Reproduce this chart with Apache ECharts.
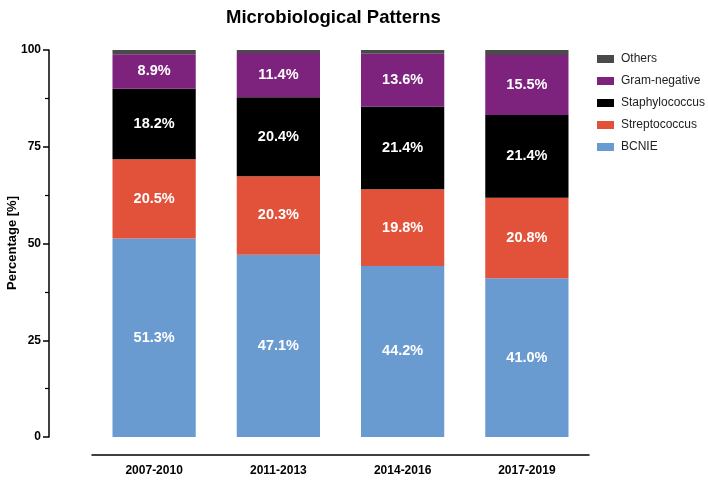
<!DOCTYPE html>
<html><head><meta charset="utf-8">
<script src="https://cdn.jsdelivr.net/npm/echarts@6/dist/echarts.min.js"></script>
<style>html,body{margin:0;padding:0;background:#fff}#c{width:708px;height:480px}</style>
</head><body><div id="c"></div>
<script>
const categories = ['2007-2010', '2011-2013', '2014-2016', '2017-2019'];
const bcnie = [51.3, 47.1, 44.2, 41.0];
const streptococcus = [20.5, 20.3, 19.8, 20.8];
const staphylococcus = [18.2, 20.4, 21.4, 21.4];
const gramNegative = [8.9, 11.4, 13.6, 15.5];
const others = [1.1, 0.8, 1.0, 1.3];
const yTicks = [0, 25, 50, 75, 100];
const yAxisTitle = 'Percentage [%]';

const font = 'Liberation Sans, Arial, sans-serif';
const chart = echarts.init(document.getElementById('c'));
function ser(name, data, color, showLabel) {
  return {
    name, type: 'bar', stack: 'a', data, barWidth: '67%',
    itemStyle: { color },
    label: {
      show: showLabel, position: 'inside', color: '#fff', fontWeight: 'bold',
      fontSize: 14.5, fontFamily: font, formatter: p => p.value.toFixed(1) + '%'
    },
    emphasis: { disabled: true }
  };
}
chart.setOption({
  animation: false,
  title: {
    text: 'Microbiological Patterns', left: 221, top: 3,
    textStyle: { fontSize: 18.5, fontWeight: 'bold', color: '#000', fontFamily: font }
  },
  graphic: [{
    type: 'text', x: 12, y: 243, rotation: Math.PI / 2,
    style: {
      text: yAxisTitle, fill: '#000', font: 'bold 13px ' + font,
      textAlign: 'center', textVerticalAlign: 'middle'
    }
  }],
  legend: {
    orient: 'vertical', left: 592, top: 48, itemWidth: 17, itemHeight: 8, itemGap: 10,
    icon: 'rect',
    data: ['Others', 'Gram-negative', 'Staphylococcus', 'Streptococcus', 'BCNIE'],
    textStyle: { fontSize: 12, color: '#222', fontFamily: font, padding: [0, 0, 0, 2] },
    selectedMode: false
  },
  grid: { left: 92, right: 119, top: 50, bottom: 43, outerBoundsMode: 'none', containLabel: false },
  xAxis: {
    type: 'category', data: categories, offset: 18,
    axisLine: { onZero: false, lineStyle: { color: '#000', width: 1.5 } },
    axisTick: { show: false },
    axisLabel: { color: '#000', fontWeight: 'bold', fontSize: 12, fontFamily: font, margin: 10 }
  },
  yAxis: {
    type: 'value', min: 0, max: 100, interval: 25, offset: 43,
    axisLine: { show: true, onZero: false, lineStyle: { color: '#000', width: 1.5 } },
    axisTick: { show: true, length: 6, lineStyle: { color: '#000', width: 1.5 } },
    minorTick: { show: true, splitNumber: 2, length: 4, lineStyle: { color: '#000', width: 1.2 } },
    splitLine: { show: false },
    axisLabel: {
      color: '#000', fontWeight: 'bold', fontSize: 12, fontFamily: font, margin: 8,
      formatter: v => yTicks.includes(v) ? String(v) : ''
    }
  },
  series: [
    ser('BCNIE', bcnie, '#6a9bd0', true),
    ser('Streptococcus', streptococcus, '#e2523a', true),
    ser('Staphylococcus', staphylococcus, '#000000', true),
    ser('Gram-negative', gramNegative, '#7d237d', true),
    ser('Others', others, '#4a4a4a', false)
  ]
});
</script></body></html>
